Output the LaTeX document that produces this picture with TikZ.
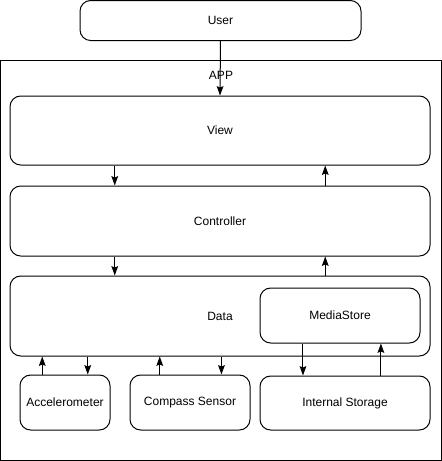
\documentclass[tikz,border=0pt]{standalone}
\usepackage{fontspec}
\setmainfont{Liberation Sans}
\usetikzlibrary{arrows.meta,calc}

\tikzset{
  block/.style={draw, rounded corners=8, line width=0.75pt, inner sep=0pt, font=\fontsize{9}{11}\selectfont},
  arr/.style={-{Stealth[length=7pt,width=5pt,inset=1pt]}, line width=0.75pt}
}

\begin{document}
\begin{tikzpicture}[x=0.75pt,y=0.75pt,yscale=-1]
\useasboundingbox (0,0) rectangle (442,461);

%APP frame
\draw[line width=0.75pt] (0.5,60.5) rectangle (441,460.5);
\node[font=\fontsize{9}{11}\selectfont] (applbl) at (221,75) {APP};

%Blocks
\node[block, minimum width=281*0.75pt, minimum height=40*0.75pt] (user) at (220.5,20.5) {User};
\node[block, minimum width=420*0.75pt, minimum height=69*0.75pt] (view) at (220,130.5) {View};
\node[block, minimum width=420*0.75pt, minimum height=70*0.75pt] (ctrl) at (220,221) {Controller};
\node[block, minimum width=420*0.75pt, minimum height=80*0.75pt] (data) at (220,316) {Data};
\node[block, minimum width=160*0.75pt, minimum height=55*0.75pt] (ms) at (340,315.5) {MediaStore};
\node[block, minimum width=90*0.75pt, minimum height=55*0.75pt] (acc) at (65,402.5) {Accelerometer};
\node[block, minimum width=120*0.75pt, minimum height=55*0.75pt] (comp) at (190,402.5) {Compass Sensor};
\node[block, minimum width=170*0.75pt, minimum height=54*0.75pt] (store) at (345,403) {Internal Storage};

%Connectors
\draw[arr] (user.south) -- (view.north);
\draw[arr] ($(view.south west)!.25!(view.south east)$) coordinate (v1) -- (v1 |- ctrl.north);
\draw[arr] ($(ctrl.north west)!.75!(ctrl.north east)$) coordinate (c1) -- (c1 |- view.south);
\draw[arr] ($(ctrl.south west)!.25!(ctrl.south east)$) coordinate (c2) -- (c2 |- data.north);
\draw[arr] ($(data.north west)!.75!(data.north east)$) coordinate (d1) -- (d1 |- ctrl.south);

\draw[arr] ($(acc.north west)!.25!(acc.north east)$) coordinate (a1) -- (a1 |- data.south);
\draw[arr] ($(acc.north west)!.75!(acc.north east)$) coordinate (a2) (a2 |- data.south) -- (a2);
\draw[arr] ($(comp.north west)!.25!(comp.north east)$) coordinate (p1) -- (p1 |- data.south);
\draw[arr] ($(comp.north west)!.76!(comp.north east)$) coordinate (p2) (p2 |- data.south) -- (p2);

\draw[arr] ($(ms.south west)!.27!(ms.south east)$) coordinate (m1) -- (m1 |- store.north);
\draw[arr] ($(store.north west)!.71!(store.north east)$) coordinate (s1) -- (s1 |- ms.south);

\end{tikzpicture}
\end{document}
